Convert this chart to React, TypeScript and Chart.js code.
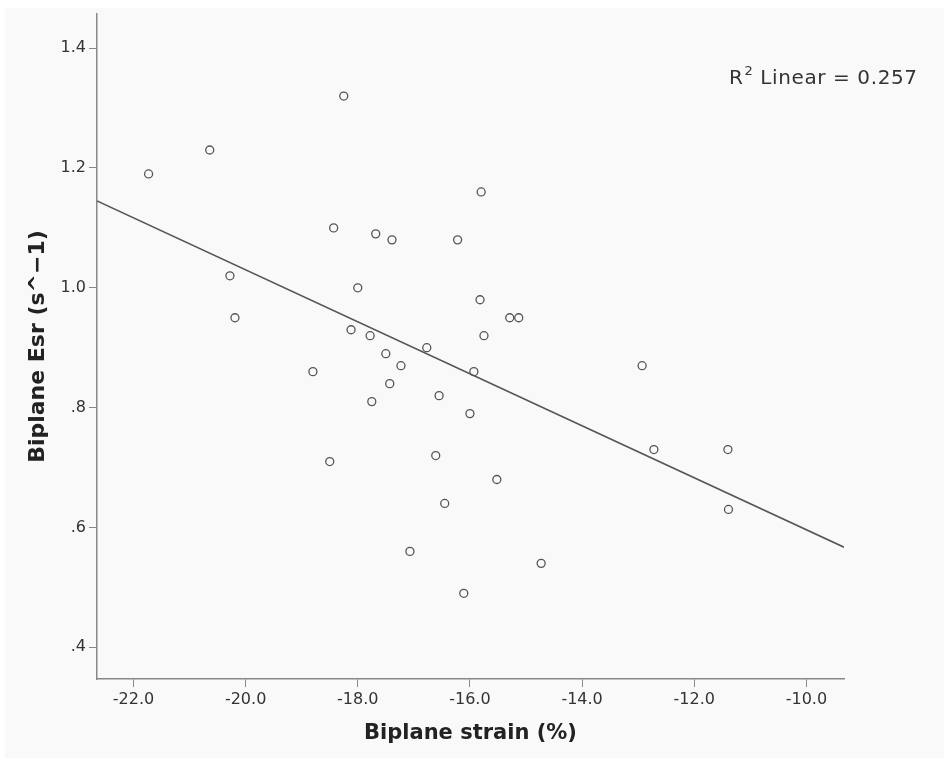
import React, { useEffect, useRef } from "react";
import { Chart, registerables } from "chart.js";

Chart.register(...registerables);

// Scatter data: Biplane strain (%) vs Biplane Esr (s^-1)
const strainValues = [
  -21.73, -20.64, -18.25, -20.28, -20.19, -18.43, -17.68, -17.39, -18.0, -18.12,
  -17.78, -17.5, -17.23, -17.43, -17.75, -18.8, -18.5, -16.77, -16.22, -15.8,
  -15.82, -15.29, -15.13, -15.75, -15.93, -16.55, -16.0, -16.61, -15.52, -16.45,
  -17.07, -14.73, -16.11, -12.93, -12.72, -11.4, -11.39,
];
const esrValues = [
  1.19, 1.23, 1.32, 1.02, 0.95, 1.1, 1.09, 1.08, 1.0, 0.93,
  0.92, 0.89, 0.87, 0.84, 0.81, 0.86, 0.71, 0.9, 1.08, 1.16,
  0.98, 0.95, 0.95, 0.92, 0.86, 0.82, 0.79, 0.72, 0.68, 0.64,
  0.56, 0.54, 0.49, 0.87, 0.73, 0.73, 0.63,
];

// Fit line endpoints
const fitX = [-22.65, -9.33];
const fitY = [1.145, 0.567];

const xTicks = [-22, -20, -18, -16, -14, -12, -10];
const xTickLabels = ["-22.0", "-20.0", "-18.0", "-16.0", "-14.0", "-12.0", "-10.0"];
const yTicks = [0.4, 0.6, 0.8, 1.0, 1.2, 1.4];
const yTickLabels = [".4", ".6", ".8", "1.0", "1.2", "1.4"];

const xRange = [-22.65, -9.33];
const yRange = [0.347, 1.457];

const xTitle = "Biplane strain (%)";
const yTitle = "Biplane Esr (s^\u22121)";
const r2Value = "0.257";

const FONT = "'DejaVu Sans', 'Noto Sans', sans-serif";

export default function App() {
  const ref = useRef<HTMLCanvasElement | null>(null);

  useEffect(() => {
    if (!ref.current) return;
    const bgPlugin = {
      id: "bgPanel",
      beforeDraw(chart: any) {
        const ctx = chart.ctx;
        ctx.save();
        ctx.fillStyle = "#ffffff";
        ctx.fillRect(0, 0, chart.width, chart.height);
        ctx.fillStyle = "#f9f9f9";
        ctx.fillRect(5, 8, chart.width - 5, chart.height - 8);
        ctx.restore();
      },
    };
    const r2Plugin = {
      id: "r2Label",
      afterDraw(chart: any) {
        const ctx = chart.ctx;
        ctx.save();
        ctx.fillStyle = "#333";
        ctx.textBaseline = "alphabetic";
        ctx.textAlign = "left";
        try { (ctx as any).letterSpacing = "0.6px"; } catch (e) {}
        const base = 84;
        let x = 729;
        ctx.font = `20px ${FONT}`;
        ctx.fillText("R", x, base);
        x += ctx.measureText("R").width + 1;
        ctx.font = `13px ${FONT}`;
        ctx.fillText("2", x, base - 9);
        x += ctx.measureText("2").width;
        ctx.font = `20px ${FONT}`;
        ctx.fillText(" Linear = " + r2Value, x, base);
        ctx.restore();
      },
    };

    const chart = new Chart(ref.current, {
      type: "scatter",
      data: {
        datasets: [
          {
            label: "points",
            data: strainValues.map((v, i) => ({ x: v, y: esrValues[i] })),
            pointRadius: 4,
            pointBorderWidth: 1.3,
            borderColor: "#555",
            backgroundColor: "rgba(0,0,0,0)",
            pointBackgroundColor: "rgba(0,0,0,0)",
            pointBorderColor: "#555",
          },
          {
            label: "fit",
            data: fitX.map((v, i) => ({ x: v, y: fitY[i] })),
            showLine: true,
            pointRadius: 0,
            borderColor: "#555",
            borderWidth: 1.5,
          },
        ],
      },
      options: {
        animation: false,
        responsive: false,
        events: [],
        layout: { padding: { left: 0, top: 14, right: 100, bottom: 0 } },
        plugins: {
          legend: { display: false },
          tooltip: { enabled: false },
        },
        scales: {
          x: {
            type: "linear",
            min: xRange[0],
            max: xRange[1],
            afterBuildTicks: (scale: any) => {
              scale.ticks = xTicks.map((v) => ({ value: v }));
            },
            afterFit: (scale: any) => {
              scale.height = 79;
            },
            ticks: {
              autoSkip: false,
              maxRotation: 0,
              padding: 3,
              color: "#333",
              font: { family: FONT, size: 16 },
              callback: (_v: any, i: number) => xTickLabels[i],
            },
            grid: {
              display: true,
              drawOnChartArea: false,
              drawTicks: true,
              tickLength: 8,
              color: "#888",
              lineWidth: 1,
            },
            border: { display: true, color: "#888", width: 1.5 },
            title: {
              display: true,
              text: xTitle,
              color: "#222",
              font: { family: FONT, size: 21, weight: "bold" },
              padding: { top: 0, bottom: 12 },
            },
          },
          y: {
            type: "linear",
            min: yRange[0],
            max: yRange[1],
            afterBuildTicks: (scale: any) => {
              scale.ticks = yTicks.map((v) => ({ value: v }));
            },
            afterFit: (scale: any) => {
              scale.width = 97;
            },
            ticks: {
              autoSkip: false,
              padding: 3,
              color: "#333",
              font: { family: FONT, size: 16 },
              callback: (_v: any, i: number) => yTickLabels[i],
            },
            grid: {
              display: true,
              drawOnChartArea: false,
              drawTicks: true,
              tickLength: 8,
              color: "#888",
              lineWidth: 1,
            },
            border: { display: true, color: "#888", width: 1.5 },
            title: {
              display: true,
              text: yTitle,
              color: "#222",
              font: { family: FONT, size: 22, weight: "bold" },
              padding: { top: 25, bottom: 0 },
            },
          },
        },
      },
      plugins: [bgPlugin, r2Plugin],
    });
    return () => chart.destroy();
  }, []);

  return (
    <div style={{ position: "absolute", left: 0, top: 0, width: 944, height: 758 }}>
      <canvas ref={ref} width={944} height={758} style={{ display: "block" }} />
    </div>
  );
}
